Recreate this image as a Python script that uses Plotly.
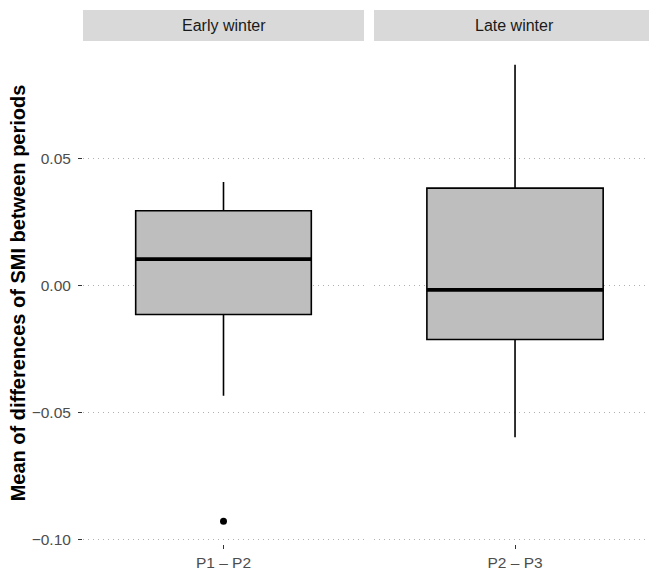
import plotly.graph_objects as go

# ---- data ----
facets = ["Early winter", "Late winter"]
categories = ["P1 – P2", "P2 – P3"]
lower_whisker = [-0.0435, -0.0598]
q1_vals = [-0.0114, -0.0213]
medians = [0.0104, -0.0017]
q3_vals = [0.0295, 0.0384]
upper_whisker = [0.0408, 0.0870]
outlier_facet = [0]
outlier_vals = [-0.0929]

ytick_vals = [-0.10, -0.05, 0.00, 0.05]
ytick_text = ["\u22120.10", "\u22120.05", "0.00", "0.05"]

BOX_W = 0.625
FONT = "Liberation Sans, Arial, Helvetica, sans-serif"

W, H = 649, 570
ML, MR, MT, MB = 83, 0, 42, 26
pw = W - ML - MR
ph = H - MT - MB

dom_left = [0, (364 - ML) / pw]
dom_right = [(374 - ML) / pw, 1]
# full (uncropped) width of the right facet, used to centre its strip label
right_center = (dom_right[0] + (dom_left[1] - dom_left[0]) / 2)

fig = go.Figure()

for i in range(2):
    xa = "x" if i == 0 else "x2"
    ya = "y" if i == 0 else "y2"
    fig.add_trace(go.Box(
        x=[0], q1=[q1_vals[i]], median=[medians[i]], q3=[q3_vals[i]],
        lowerfence=[lower_whisker[i]], upperfence=[upper_whisker[i]],
        width=BOX_W, whiskerwidth=0, boxpoints=False,
        fillcolor="#bebebe", line=dict(color="black", width=1.6),
        xaxis=xa, yaxis=ya, showlegend=False, hoverinfo="skip",
    ))
    fig.add_trace(go.Scatter(
        x=[-BOX_W / 2, BOX_W / 2], y=[medians[i], medians[i]], mode="lines",
        line=dict(color="black", width=3.6), xaxis=xa, yaxis=ya,
        showlegend=False, hoverinfo="skip",
    ))

for f, v in zip(outlier_facet, outlier_vals):
    fig.add_trace(go.Scatter(
        x=[0], y=[v], mode="markers", marker=dict(color="black", size=7),
        xaxis="x" if f == 0 else "x2", yaxis="y" if f == 0 else "y2",
        showlegend=False, hoverinfo="skip",
    ))

yr = [-0.1019, 0.0960]
common_y = dict(range=yr, tickvals=ytick_vals, showgrid=True, gridcolor="#b0b0b0",
                griddash="1.3px,3.7px", gridwidth=1.2, zeroline=False, showline=False,
                automargin=False)
common_x = dict(tickvals=[0], showgrid=False, zeroline=False, showline=False,
                ticks="outside", ticklen=4, tickcolor="#333333", tickwidth=1.2,
                ticklabelstandoff=0, automargin=False,
                tickfont=dict(family=FONT, size=15.5, color="#4d4d4d"))

fig.update_layout(
    width=W, height=H,
    margin=dict(l=ML, r=MR, t=MT, b=MB, autoexpand=False),
    plot_bgcolor="white", paper_bgcolor="white",
    xaxis=dict(domain=dom_left, range=[-0.5, 0.5], ticktext=[categories[0]], anchor="y", **common_x),
    xaxis2=dict(domain=dom_right, range=[-0.5, 0.475], ticktext=[categories[1]], anchor="y2", **common_x),
    yaxis=dict(ticktext=ytick_text, ticks="outside", ticklen=4, tickcolor="#333333", tickwidth=1.2,
               ticklabelstandoff=4,
               tickfont=dict(family=FONT, size=15.5, color="#4d4d4d"),
               title=dict(text="Mean of differences of SMI between periods",
                          font=dict(family=FONT, size=20, color="black", weight="bold"),
                          standoff=0),
               anchor="x", **common_y),
    yaxis2=dict(showticklabels=False, ticks="", anchor="x2", **common_y),
)

# facet strips
strip_bottom = 1 + 1 / ph
strip_top = 1 + 32 / ph
strip_centers = [(dom_left[0] + dom_left[1]) / 2, right_center]
for i, dom in enumerate([dom_left, dom_right]):
    fig.add_shape(type="rect", xref="paper", yref="paper",
                  x0=dom[0], x1=dom[1], y0=strip_bottom, y1=strip_top,
                  fillcolor="#d9d9d9", line=dict(width=0), layer="below")
    fig.add_annotation(xref="paper", yref="paper", x=strip_centers[i],
                       y=(strip_bottom + strip_top) / 2, text=facets[i], showarrow=False,
                       font=dict(family=FONT, size=16, color="#1a1a1a"),
                       xanchor="center", yanchor="middle")

fig.write_html("out.html")
